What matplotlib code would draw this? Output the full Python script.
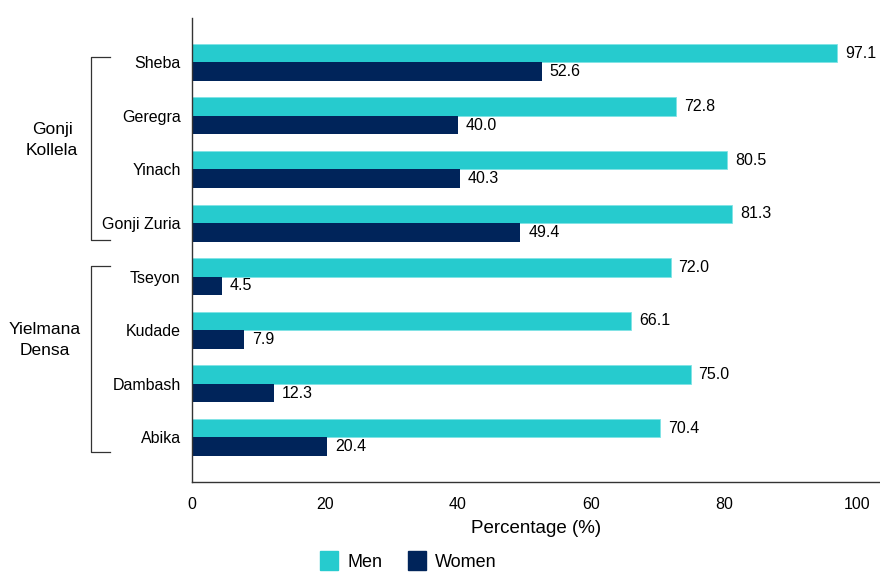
import numpy as np
import matplotlib.pyplot as plt
from matplotlib.patches import Patch

plt.rcParams['font.family'] = ['Liberation Sans', 'DejaVu Sans']

# Kebeles grouped by woreda
kebeles = ['Sheba', 'Geregra', 'Yinach', 'Gonji Zuria',
           'Tseyon', 'Kudade', 'Dambash', 'Abika']
groups = ['Gonji\nKollela', 'Yielmana\nDensa']
men = [97.1, 72.8, 80.5, 81.3, 72.0, 66.1, 75.0, 70.4]
women = [52.6, 40.0, 40.3, 49.4, 4.5, 7.9, 12.3, 20.4]

men_color = '#26cbce'
women_color = '#00245a'

fig = plt.figure(figsize=(8.8, 5.77), dpi=100)
ax = fig.add_axes([0.218, 0.165, 0.782, 0.804])

y = np.arange(len(kebeles))
h = 0.345
ax.barh(y - h / 2, men, height=h, color=men_color, edgecolor='#7fe3e5', linewidth=0.6)
ax.barh(y + h / 2, women, height=h, color=women_color)

for i in range(len(kebeles)):
    ax.text(men[i] + 1.2, y[i] - h / 2, f'{men[i]:.1f}', va='center', ha='left', fontsize=11.5)
    ax.text(women[i] + 1.2, y[i] + h / 2, f'{women[i]:.1f}', va='center', ha='left', fontsize=11.5)

ax.set_xlim(0, 103.5)
ax.set_ylim(7.83, -0.83)
ax.set_xticks([0, 20, 40, 60, 80, 100])
ax.set_yticks(y)
ax.set_yticklabels(kebeles)
ax.tick_params(axis='both', length=0, labelsize=11.5)
ax.tick_params(axis='x', pad=11)
ax.tick_params(axis='y', pad=8)
ax.set_xlabel('Percentage (%)', fontsize=13.5, labelpad=6)

for s in ['top', 'right']:
    ax.spines[s].set_visible(False)
for s in ['left', 'bottom']:
    ax.spines[s].set_linewidth(1.0)
    ax.spines[s].set_color('#333333')

# brackets for the two woredas
tr = ax.get_yaxis_transform()
spans = [(-0.1, 3.31), (3.8, 7.27)]
label_pos = [(-0.203, 1.45), (-0.214, 5.18)]
for (y0, y1), name, (lx, ly) in zip(spans, groups, label_pos):
    ax.plot([-0.119, -0.147, -0.147, -0.119], [y0, y0, y1, y1],
            color='#333333', lw=0.9, transform=tr, clip_on=False)
    ax.text(lx, ly, name, transform=tr, ha='center', va='center',
            fontsize=12.5, linespacing=1.45)

handles = [Patch(color=men_color, label='Men'), Patch(color=women_color, label='Women')]
fig.legend(handles=handles, loc='center', bbox_to_anchor=(0.464, 0.028), ncol=2,
           frameon=False, fontsize=13, handlelength=1.0, handleheight=1.2,
           columnspacing=1.4, handletextpad=0.5)

fig.savefig('out.png', dpi=100)
